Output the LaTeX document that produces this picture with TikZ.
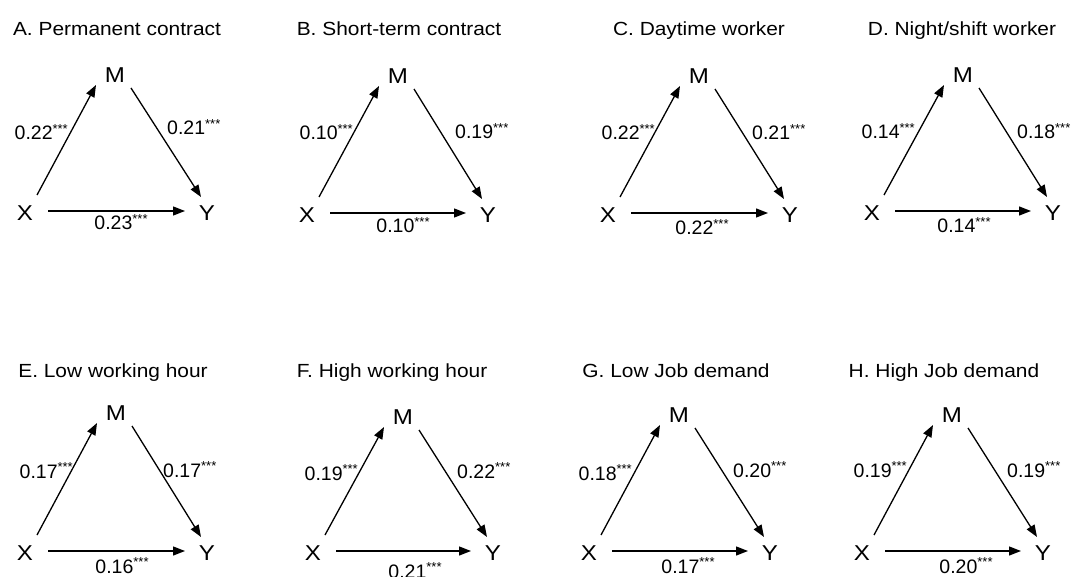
\documentclass[tikz,border=0pt]{standalone}
\usepackage{fontspec}
\setmainfont{Liberation Sans}
\newfontfamily\titlefont[FakeStretch=1.1]{Liberation Sans}
\newfontfamily\varfont[FakeStretch=1.12]{Liberation Sans}
\usetikzlibrary{arrows.meta}
\newcommand\sig{\raisebox{6.5pt}{\fontsize{13}{13}\selectfont ***}}
\newcommand\arrs[1]{%
  \draw[arr] ([shift={(12,-18)}]#1X.center) -- ([shift={(-19,10)}]#1M.center);
  \draw[arr] ([shift={(16,13)}]#1M.center) -- ([shift={(-6,-16)}]#1Y.center);
  \draw[arr] ([shift={(23,-2)}]#1X.center) -- ([shift={(-22,-2)}]#1Y.center);}
\tikzset{
  ttl/.style={anchor=base, inner sep=0pt, font=\titlefont\fontsize{19}{19}\selectfont},
  var/.style={inner sep=0pt, font=\varfont\fontsize{21.5}{21.5}\selectfont},
  lab/.style={inner sep=0pt, font=\fontsize{19.5}{19.5}\selectfont},
  labl/.style={lab, anchor=base east},
  labr/.style={lab, anchor=base west},
  labb/.style={lab, anchor=base},
  arr/.style={-{Triangle[length=12pt,width=9pt]}, line width=1.3pt, black},
}
\begin{document}
\begin{tikzpicture}[x=1pt,y=-1pt]
\useasboundingbox (0,0) rectangle (1073,577);
\fill[white] (0,0) rectangle (1073,577);
% A
\node[ttl] (aT) at (117,36) {A. Permanent contract};
\node[var] (aM) at (115,75) {M};
\node[var] (aX) at (25,213) {X};
\node[var] (aY) at (207,213) {Y};
\arrs{a}
\node[labl] (aL1) at (68,140) {0.22\sig};
\node[labr] (aL2) at (167,135) {0.21\sig};
\node[labb] (aL3) at (121,230) {0.23\sig};
% B
\node[ttl] (bT) at (399,36) {B. Short-term contract};
\node[var] (bM) at (398,76) {M};
\node[var] (bX) at (307,215) {X};
\node[var] (bY) at (488,215) {Y};
\arrs{b}
\node[labl] (bL1) at (353,140) {0.10\sig};
\node[labr] (bL2) at (455,139) {0.19\sig};
\node[labb] (bL3) at (403,233) {0.10\sig};
% C
\node[ttl] (cT) at (699,36) {C. Daytime worker};
\node[var] (cM) at (699,76) {M};
\node[var] (cX) at (608,215) {X};
\node[var] (cY) at (790,215) {Y};
\arrs{c}
\node[labl] (cL1) at (655,140) {0.22\sig};
\node[labr] (cL2) at (752,140) {0.21\sig};
\node[labb] (cL3) at (702,235) {0.22\sig};
% D
\node[ttl] (dT) at (962,36) {D. Night/shift worker};
\node[var] (dM) at (963,75) {M};
\node[var] (dX) at (872,213) {X};
\node[var] (dY) at (1053,213) {Y};
\arrs{d}
\node[labl] (dL1) at (915,139) {0.14\sig};
\node[labr] (dL2) at (1017,139) {0.18\sig};
\node[labb] (dL3) at (964,233) {0.14\sig};
% E
\node[ttl] (eT) at (113,377) {E. Low working hour};
\node[var] (eM) at (116,413) {M};
\node[var] (eX) at (25,553) {X};
\node[var] (eY) at (207,553) {Y};
\arrs{e}
\node[labl] (eL1) at (73,478) {0.17\sig};
\node[labr] (eL2) at (163,477) {0.17\sig};
\node[labb] (eL3) at (122,573) {0.16\sig};
% F
\node[ttl] (fT) at (392,377) {F. High working hour};
\node[var] (fM) at (403,417) {M};
\node[var] (fX) at (313,553) {X};
\node[var] (fY) at (493,553) {Y};
\arrs{f}
\node[labl] (fL1) at (358,480) {0.19\sig};
\node[labr] (fL2) at (457,478) {0.22\sig};
\node[labb] (fL3) at (415,578) {0.21\sig};
% G
\node[ttl] (gT) at (676,377) {G. Low Job demand};
\node[var] (gM) at (679,415) {M};
\node[var] (gX) at (589,553) {X};
\node[var] (gY) at (770,553) {Y};
\arrs{g}
\node[labl] (gL1) at (632,480) {0.18\sig};
\node[labr] (gL2) at (733,477) {0.20\sig};
\node[labb] (gL3) at (688,573) {0.17\sig};
% H
\node[ttl] (hT) at (944,377) {H. High Job demand};
\node[var] (hM) at (952,415) {M};
\node[var] (hX) at (862,553) {X};
\node[var] (hY) at (1043,553) {Y};
\arrs{h}
\node[labl] (hL1) at (907,477) {0.19\sig};
\node[labr] (hL2) at (1007,477) {0.19\sig};
\node[labb] (hL3) at (966,573) {0.20\sig};
\end{tikzpicture}
\end{document}
